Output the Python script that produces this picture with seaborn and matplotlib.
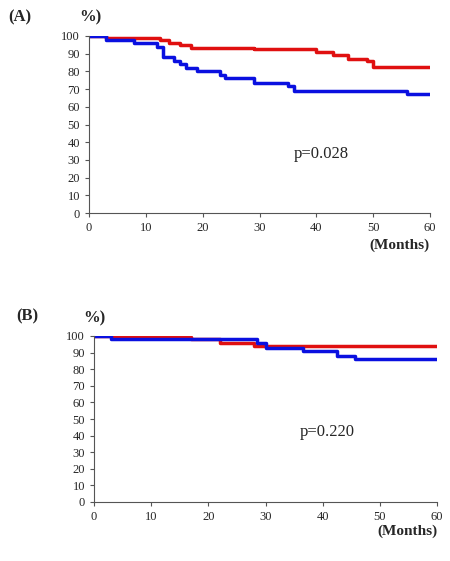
import matplotlib
matplotlib.use("Agg")
import matplotlib.pyplot as plt
import seaborn as sns
import pandas as pd

sns.set_theme(style="ticks")
plt.rcParams['font.family'] = ['Liberation Serif', 'DejaVu Serif']

# Panel A step curves (months, percent)
a_red_t = [0, 3, 12.5, 14, 16, 18, 29, 40, 43, 45.5, 49, 50, 60]
a_red_s = [100, 99, 98, 96, 95, 93.5, 92.5, 91, 89, 87, 86, 82.5, 82.5]
a_blue_t = [0, 3, 8, 12, 13, 15, 16, 17, 19, 23, 24, 29, 35, 36, 56, 60]
a_blue_s = [100, 98, 96, 94, 88, 86, 84, 82, 80, 78, 76, 73.5, 72, 69, 67, 67]
# Panel B step curves
b_red_t = [0, 3, 17, 22, 28, 60]
b_red_s = [100, 99.5, 98, 96, 94, 94]
b_blue_t = [0, 3, 28.5, 30, 36.5, 42.5, 45.7, 60]
b_blue_s = [100, 98, 96, 93, 91, 88, 86, 86]

fig = plt.figure(figsize=(4.5, 5.61), dpi=100)
axA = fig.add_axes([89/450, 1-213/561, 341/450, 177/561])
axB = fig.add_axes([94/450, 1-502/561, 343/450, 166/561])

def panel(ax, rt, rs, bt, bs, label, lx, ly, ptxt, px, py):
    df = pd.concat([pd.DataFrame({'t': rt, 's': rs, 'g': 'red'}),
                    pd.DataFrame({'t': bt, 's': bs, 'g': 'blue'})])
    sns.lineplot(data=df, x='t', y='s', hue='g', palette={'red': '#e01010', 'blue': '#0a10e0'},
                 drawstyle='steps-post', linewidth=2.5, legend=False, ax=ax)
    ax.set_xlim(0, 60)
    ax.set_ylim(0, 100)
    ax.set_xticks(range(0, 61, 10))
    ax.set_yticks(range(0, 101, 10))
    ax.tick_params(labelsize=9, length=3, width=0.8, color='#555555')
    for s in ['top', 'right']:
        ax.spines[s].set_visible(False)
    for s in ['left', 'bottom']:
        ax.spines[s].set_color('#555555')
        ax.spines[s].set_linewidth(0.8)
    ax.set_xlabel('')
    ax.set_ylabel('')
    fig.text(lx/450, 1-ly/561, label, fontsize=12, fontweight='bold', va='center')
    ax.text(-0.03, 1.08, '%)', transform=ax.transAxes, fontsize=12, fontweight='bold')
    ax.text(1.0, -0.2, '(Months)', transform=ax.transAxes, fontsize=11, fontweight='bold', ha='right')
    ax.text(px, py, ptxt, fontsize=12)

panel(axA, a_red_t, a_red_s, a_blue_t, a_blue_s, '(A)', 8, 17, 'p=0.028', 36, 31)
panel(axB, b_red_t, b_red_s, b_blue_t, b_blue_s, '(B)', 16, 316, 'p=0.220', 36, 40)

fig.savefig('out.png', dpi=100)
